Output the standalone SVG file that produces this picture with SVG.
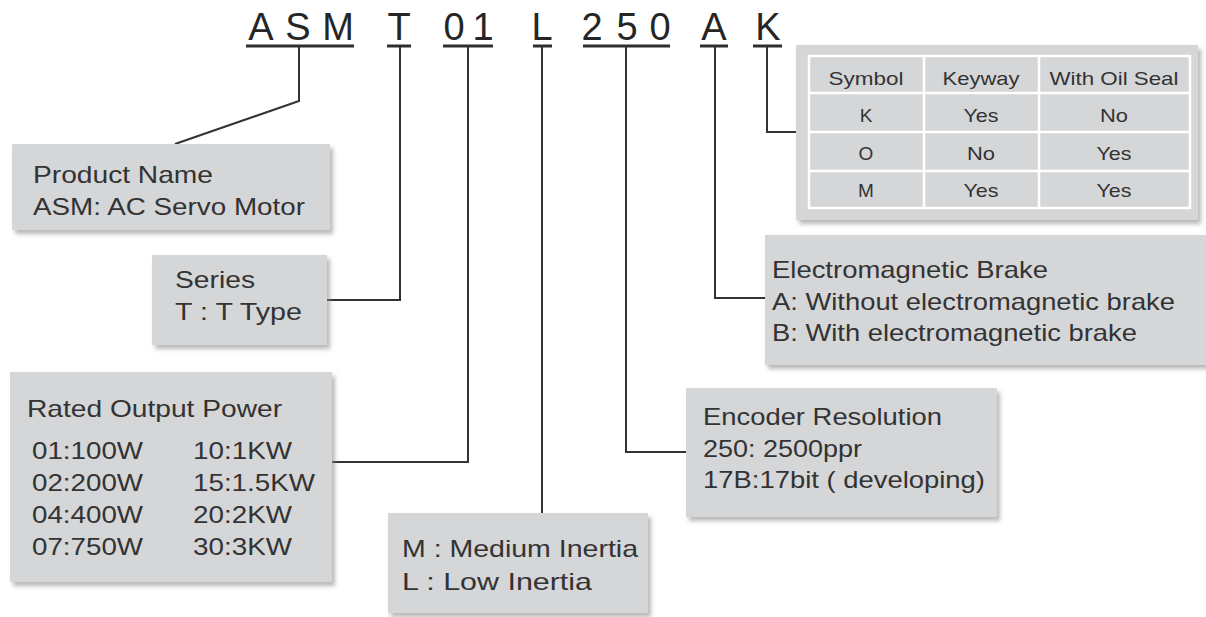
<svg xmlns="http://www.w3.org/2000/svg" width="1206" height="617" viewBox="0 0 1206 617">
<defs>
<filter id="sh" x="-5%" y="-10%" width="115%" height="130%">
<feDropShadow dx="3" dy="4" stdDeviation="2" flood-color="#8a8a8a" flood-opacity="0.6"/>
</filter>
<style>
.box{fill:#d5d6d8;filter:url(#sh)}
.t{font-family:"Liberation Sans",Arial,sans-serif;font-size:24px;fill:#333}
.tt{font-family:"Liberation Sans",Arial,sans-serif;font-size:19px;fill:#333;text-anchor:middle}
.code{font-family:"Liberation Sans",Arial,sans-serif;font-size:38px;fill:#262626;text-anchor:middle}
.ul{stroke:#2e2e2e;stroke-width:3}
.con{fill:none;stroke:#333;stroke-width:2}
.grid{stroke:#fff;stroke-width:2.5;fill:none}
</style>
</defs>
<rect width="1206" height="617" fill="#fff"/>

<g id="code">
<text class="code" x="261" y="40">A</text>
<text class="code" x="298" y="40">S</text>
<text class="code" x="338" y="40">M</text>
<text class="code" x="399" y="40">T</text>
<text class="code" x="454" y="40">0</text>
<text class="code" x="483" y="40">1</text>
<text class="code" x="542" y="40">L</text>
<text class="code" x="592" y="40">2</text>
<text class="code" x="627" y="40">5</text>
<text class="code" x="660" y="40">0</text>
<text class="code" x="714" y="40">A</text>
<text class="code" x="768" y="40">K</text>
<line class="ul" x1="246" y1="46" x2="354" y2="46"/>
<line class="ul" x1="387" y1="46" x2="411" y2="46"/>
<line class="ul" x1="443" y1="46" x2="493" y2="46"/>
<line class="ul" x1="533" y1="46" x2="552" y2="46"/>
<line class="ul" x1="583" y1="46" x2="670" y2="46"/>
<line class="ul" x1="700" y1="46" x2="728" y2="46"/>
<line class="ul" x1="753" y1="46" x2="782" y2="46"/>
</g>

<g id="connectors">
<path class="con" d="M299,47 V101 L175,144"/>
<path class="con" d="M400,47 V300 H327"/>
<path class="con" d="M468,47 V462 H332"/>
<path class="con" d="M542,47 V513"/>
<path class="con" d="M626,47 V452 H686"/>
<path class="con" d="M715,47 V298 H765"/>
<path class="con" d="M767,47 V132 H797"/>
</g>

<g id="product-name">
<rect class="box" x="12" y="144" width="318" height="86"/>
<text class="t" x="33" y="183" textLength="180" lengthAdjust="spacingAndGlyphs">Product Name</text>
<text class="t" x="33" y="215" textLength="272" lengthAdjust="spacingAndGlyphs">ASM: AC Servo Motor</text>
</g>

<g id="series">
<rect class="box" x="152" y="255" width="175" height="90"/>
<text class="t" x="175" y="288" textLength="80" lengthAdjust="spacingAndGlyphs">Series</text>
<text class="t" x="175" y="320" textLength="127" lengthAdjust="spacingAndGlyphs">T : T Type</text>
</g>

<g id="rated-output-power">
<rect class="box" x="10" y="372" width="322" height="210"/>
<text class="t" x="27" y="417" textLength="255" lengthAdjust="spacingAndGlyphs">Rated Output Power</text>
<text class="t" x="32" y="459" textLength="111" lengthAdjust="spacingAndGlyphs">01:100W</text>
<text class="t" x="32" y="491" textLength="111" lengthAdjust="spacingAndGlyphs">02:200W</text>
<text class="t" x="32" y="523" textLength="111" lengthAdjust="spacingAndGlyphs">04:400W</text>
<text class="t" x="32" y="555" textLength="111" lengthAdjust="spacingAndGlyphs">07:750W</text>
<text class="t" x="193" y="459" textLength="99" lengthAdjust="spacingAndGlyphs">10:1KW</text>
<text class="t" x="193" y="491" textLength="122" lengthAdjust="spacingAndGlyphs">15:1.5KW</text>
<text class="t" x="193" y="523" textLength="99" lengthAdjust="spacingAndGlyphs">20:2KW</text>
<text class="t" x="193" y="555" textLength="99" lengthAdjust="spacingAndGlyphs">30:3KW</text>
</g>

<g id="inertia">
<rect class="box" x="388" y="513" width="260" height="100"/>
<text class="t" x="402" y="557" textLength="236" lengthAdjust="spacingAndGlyphs">M : Medium Inertia</text>
<text class="t" x="402" y="590" textLength="190" lengthAdjust="spacingAndGlyphs">L : Low Inertia</text>
</g>

<g id="encoder">
<rect class="box" x="686" y="388" width="311" height="129"/>
<text class="t" x="703" y="425" textLength="239" lengthAdjust="spacingAndGlyphs">Encoder Resolution</text>
<text class="t" x="703" y="457" textLength="159" lengthAdjust="spacingAndGlyphs">250: 2500ppr</text>
<text class="t" x="703" y="488" textLength="282" lengthAdjust="spacingAndGlyphs">17B:17bit ( developing)</text>
</g>

<g id="brake">
<rect class="box" x="765" y="235" width="450" height="130"/>
<text class="t" x="772" y="278" textLength="276" lengthAdjust="spacingAndGlyphs">Electromagnetic Brake</text>
<text class="t" x="772" y="310" textLength="403" lengthAdjust="spacingAndGlyphs">A: Without electromagnetic brake</text>
<text class="t" x="772" y="341" textLength="365" lengthAdjust="spacingAndGlyphs">B: With electromagnetic brake</text>
</g>

<g id="shaft-table">
<rect class="box" x="796" y="45" width="402" height="175"/>
<rect class="grid" x="809" y="56" width="381" height="152"/>
<line class="grid" x1="809" y1="93" x2="1190" y2="93"/>
<line class="grid" x1="809" y1="132" x2="1190" y2="132"/>
<line class="grid" x1="809" y1="171" x2="1190" y2="171"/>
<line class="grid" x1="924" y1="56" x2="924" y2="208"/>
<line class="grid" x1="1039" y1="56" x2="1039" y2="208"/>
<text class="tt" x="866" y="85" textLength="75" lengthAdjust="spacingAndGlyphs">Symbol</text>
<text class="tt" x="981" y="85" textLength="77" lengthAdjust="spacingAndGlyphs">Keyway</text>
<text class="tt" x="1114" y="85" textLength="129" lengthAdjust="spacingAndGlyphs">With Oil Seal</text>
<text class="tt" x="866" y="122">K</text>
<text class="tt" x="981" y="122" textLength="35" lengthAdjust="spacingAndGlyphs">Yes</text>
<text class="tt" x="1114" y="122" textLength="28" lengthAdjust="spacingAndGlyphs">No</text>
<text class="tt" x="866" y="160">O</text>
<text class="tt" x="981" y="160" textLength="28" lengthAdjust="spacingAndGlyphs">No</text>
<text class="tt" x="1114" y="160" textLength="35" lengthAdjust="spacingAndGlyphs">Yes</text>
<text class="tt" x="866" y="197">M</text>
<text class="tt" x="981" y="197" textLength="35" lengthAdjust="spacingAndGlyphs">Yes</text>
<text class="tt" x="1114" y="197" textLength="35" lengthAdjust="spacingAndGlyphs">Yes</text>
</g>
</svg>
